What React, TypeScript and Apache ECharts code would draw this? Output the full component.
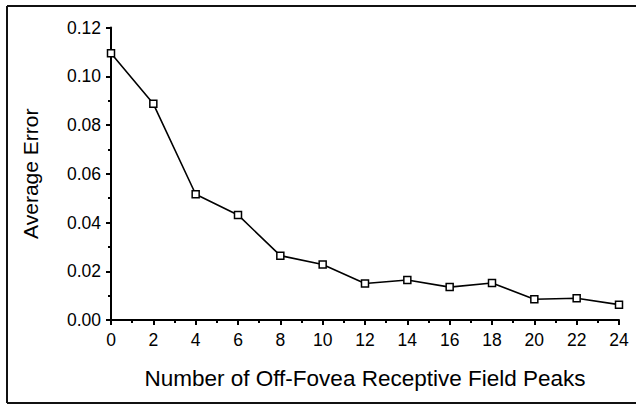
import React, { useEffect, useRef } from "react";
import * as echarts from "echarts";

const peaks = [0, 2, 4, 6, 8, 10, 12, 14, 16, 18, 20, 22, 24];
const avgError = [0.1094, 0.0887, 0.0516, 0.0431, 0.0264, 0.0228, 0.015, 0.0164, 0.0135, 0.0152, 0.0085, 0.0089, 0.0063];
const xTitle = "Number of Off-Fovea Receptive Field Peaks";
const yTitle = "Average Error";

export default function App() {
  const ref = useRef<HTMLDivElement>(null);
  useEffect(() => {
    if (!ref.current) return;
    const chart = echarts.init(ref.current, null, { renderer: "svg" });
    const font = "'Liberation Sans', Arial, Helvetica, sans-serif";
    const frameStyle = { stroke: "#111", lineWidth: 2 };
    chart.setOption({
      animation: false,
      backgroundColor: "#ffffff",
      textStyle: { fontFamily: font, color: "#000" },
      grid: { left: 111, right: 17, top: 27.5, bottom: 85, containLabel: false },
      graphic: [
        { type: "line", shape: { x1: 7, y1: 6, x2: 636, y2: 6 }, style: frameStyle, silent: true },
        { type: "line", shape: { x1: 7, y1: 6, x2: 7, y2: 403 }, style: frameStyle, silent: true },
        { type: "line", shape: { x1: 7, y1: 403, x2: 636, y2: 403 }, style: frameStyle, silent: true },
      ],
      xAxis: {
        type: "value",
        min: 0,
        max: 24,
        interval: 2,
        name: xTitle,
        nameLocation: "middle",
        nameGap: 47,
        nameTextStyle: { fontFamily: font, fontSize: 22.5, color: "#000" },
        axisLine: { show: true, onZero: false, lineStyle: { color: "#000", width: 2 } },
        axisTick: { show: true, length: 5, lineStyle: { color: "#000", width: 2 } },
        minorTick: { show: true, splitNumber: 2, length: 3, lineStyle: { color: "#000", width: 2 } },
        splitLine: { show: false },
        axisLabel: { fontFamily: font, fontSize: 17.5, color: "#000", margin: 11 },
      },
      yAxis: {
        type: "value",
        min: 0,
        max: 0.12,
        interval: 0.02,
        name: yTitle,
        nameLocation: "middle",
        nameGap: 70,
        nameRotate: 90,
        nameTextStyle: { fontFamily: font, fontSize: 21, color: "#000" },
        axisLine: { show: true, onZero: false, lineStyle: { color: "#000", width: 2 } },
        axisTick: { show: true, length: 5, lineStyle: { color: "#000", width: 2 } },
        minorTick: { show: true, splitNumber: 2, length: 3, lineStyle: { color: "#000", width: 2 } },
        splitLine: { show: false },
        axisLabel: {
          fontFamily: font,
          fontSize: 17.5,
          color: "#000",
          margin: 10,
          formatter: (v: number) => v.toFixed(2),
        },
      },
      series: [
        {
          type: "line",
          data: peaks.map((p, i) => [p, avgError[i]]),
          symbol: "rect",
          symbolSize: 7,
          lineStyle: { color: "#000", width: 1.6 },
          itemStyle: { color: "#fff", borderColor: "#000", borderWidth: 1.5 },
        },
      ],
    });
    return () => chart.dispose();
  }, []);
  return (
    <div
      ref={ref}
      style={{ position: "fixed", left: 0, top: 0, width: 636, height: 405 }}
    />
  );
}
